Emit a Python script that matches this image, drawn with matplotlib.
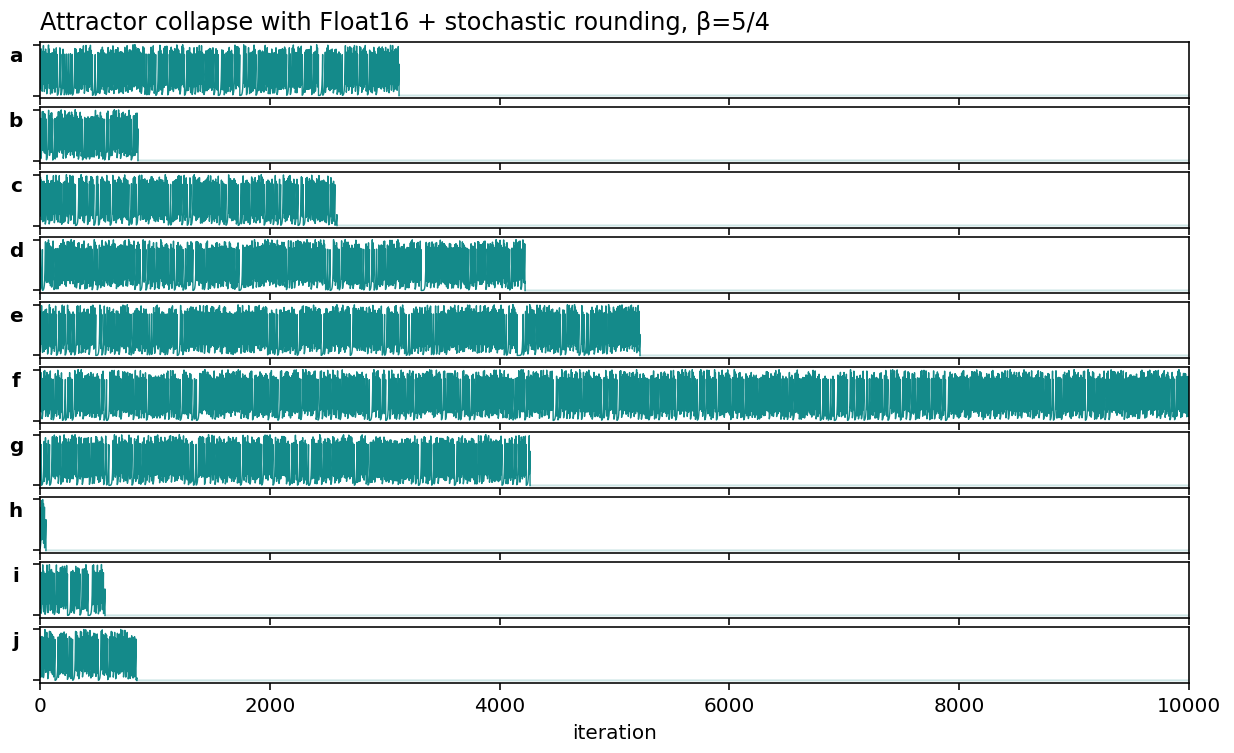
import matplotlib
matplotlib.use("Agg")
import matplotlib.pyplot as plt
import numpy as np

# beta map x -> beta*x mod 1, one run per panel
beta = 5 / 4
n_iter = 10000
panel_labels = ["a", "b", "c", "d", "e", "f", "g", "h", "i", "j"]
# iteration where each run collapsed to the fixed point 0
collapse_at = [3125, 853, 2585, 4222, 5222, 10000, 4265, 52, 566, 844]
# starting values of the runs
x_start = [0.123, 0.271, 0.389, 0.417, 0.555, 0.638, 0.709, 0.834, 0.912, 0.347]
xticks = [0, 2000, 4000, 6000, 8000, 10000]


def run(x0, stop):
    x = np.zeros(n_iter)
    x[0] = x0
    for i in range(1, stop):
        x[i] = (beta * x[i - 1]) % 1.0
    # after collapse the orbit sits at 0
    return x


fig, axes = plt.subplots(len(panel_labels), 1, sharex=True, figsize=(8.57, 5.23), dpi=144)
fig.subplots_adjust(left=0.0324, right=0.9635, top=0.944, bottom=0.093, hspace=0.16)

t = np.arange(n_iter)
for ax, label, x0, stop in zip(axes, panel_labels, x_start, collapse_at):
    x = run(x0, stop)
    ax.plot(t[:stop + 1], x[:stop + 1], color="teal", lw=0.7, alpha=0.92)
    if stop < n_iter:
        ax.plot(t[stop:], x[stop:], color="teal", lw=1.0, alpha=0.2)
    ax.set_yticks([0, 1])
    ax.set_yticklabels([])
    ax.set_xlim(0, n_iter)
    ax.text(-0.021, 0.75, label, transform=ax.transAxes, ha="center", va="center",
            fontweight="bold", fontsize=10)

axes[-1].set_xticks(xticks)
axes[-1].set_xlabel("iteration")
axes[0].set_title("Attractor collapse with Float16 + stochastic rounding, β=5/4", loc="left")

plt.savefig("out.png")
